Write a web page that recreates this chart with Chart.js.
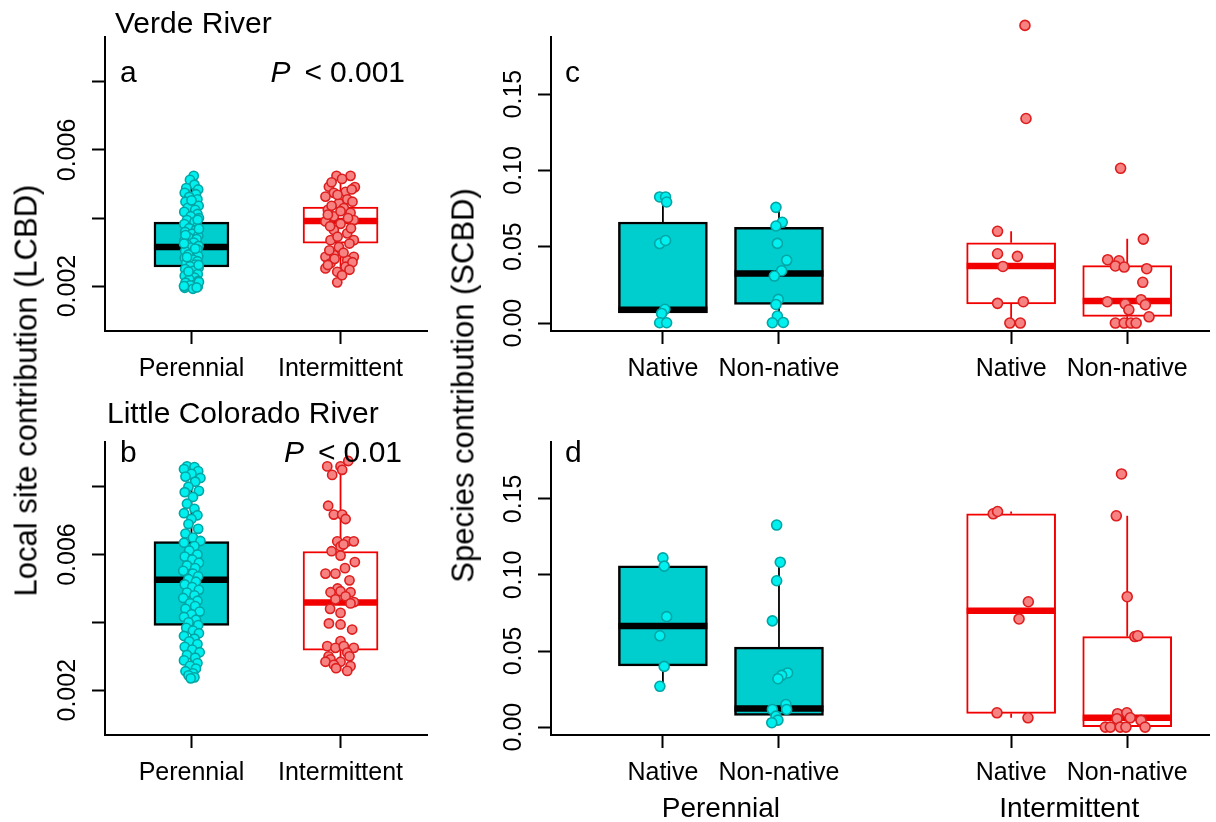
<!DOCTYPE html>
<html>
<head>
<meta charset="utf-8">
<script src="https://cdn.jsdelivr.net/npm/chart.js@4"></script>
<style>
  html, body { margin: 0; padding: 0; background: #fff; }
  body { width: 1216px; height: 822px; position: relative; overflow: hidden;
         font-family: "Liberation Sans", Arial, sans-serif; }
  canvas { position: absolute; }
  .ytitle { position: absolute; width: 520px; height: 31px; line-height: 31px; font-size: 31px;
            text-align: center; white-space: nowrap; color: #000; transform: rotate(-90deg); }
</style>
</head>
<body>
<canvas id="panelA" width="440" height="400" style="left:0;top:0"></canvas>
<canvas id="panelB" width="440" height="422" style="left:0;top:400px"></canvas>
<canvas id="panelC" width="776" height="400" style="left:440px;top:0"></canvas>
<canvas id="panelD" width="776" height="422" style="left:440px;top:400px"></canvas>
<div class="ytitle" style="left:-234px;top:374.5px">Local site contribution (LCBD)</div>
<div class="ytitle" style="left:203px;top:369.5px">Species contribution (SCBD)</div>
<script>
// ---- categories and axis ticks ----
const flowRegimes = ['Perennial', 'Intermittent'];
const regimePositions = [1, 2];
const originLabels = ['Native', 'Non-native', 'Native', 'Non-native'];
const originPositions = [1, 2, 4, 5];
const originRegime = [0, 0, 1, 1];

const lcbdTicks = [0.002, 0.004, 0.006, 0.008];
const lcbdTickLabels = ['0.002', '', '0.006', ''];
const scbdTicks = [0, 0.05, 0.10, 0.15];
const scbdTickLabels = ['0.00', '0.05', '0.10', '0.15'];

// ---- box summaries: [lower whisker, Q1, median, Q3, upper whisker] ----
const verdeSiteBoxes = [
  [0.00192, 0.00256, 0.00315, 0.00388, 0.00524],
  [0.00211, 0.00326, 0.00391, 0.00432, 0.00524]
];
const lcrSiteBoxes = [
  [0.00235, 0.00391, 0.00526, 0.00638, 0.00859],
  [0.00256, 0.00318, 0.00459, 0.00609, 0.00870]
];
const verdeSpeciesBoxes = [
  [0.0002, 0.0066, 0.0088, 0.0662, 0.0826],
  [0.0002, 0.0122, 0.0325, 0.0627, 0.0758],
  [0.0000, 0.0125, 0.0374, 0.0526, 0.0601],
  [0.0000, 0.0044, 0.0144, 0.0376, 0.0553]
];
const lcrSpeciesBoxes = [
  [0.0268, 0.0402, 0.0665, 0.1060, 0.1112],
  [0.0029, 0.0077, 0.0122, 0.0526, 0.1084],
  [0.0061, 0.0090, 0.0765, 0.1402, 0.1417],
  [0.0000, 0.0000, 0.0061, 0.0595, 0.1389]
];

// ---- observations: [value, horizontal jitter] ----
const verdePerennialSites = [
  [0.00524, 0.015], [0.00512, -0.010], [0.00498, 0.020], [0.00488, -0.035], [0.00484, 0.045], [0.00474, -0.045],
  [0.00470, 0.030], [0.00462, -0.015], [0.00455, 0.040], [0.00448, -0.040], [0.00441, 0.010], [0.00436, 0.048],
  [0.00430, -0.025], [0.00424, 0.025], [0.00418, -0.048], [0.00412, 0.040], [0.00405, -0.005], [0.00400, 0.050],
  [0.00394, -0.030], [0.00388, 0.020], [0.00382, -0.048], [0.00376, 0.040], [0.00370, -0.015], [0.00365, 0.030],
  [0.00359, -0.042], [0.00354, 0.005], [0.00348, 0.045], [0.00343, -0.020], [0.00338, 0.035], [0.00333, -0.048],
  [0.00328, 0.015], [0.00322, -0.030], [0.00318, 0.048], [0.00313, -0.005], [0.00308, 0.040], [0.00303, -0.042],
  [0.00298, 0.020], [0.00293, -0.020], [0.00288, 0.045], [0.00283, -0.045], [0.00278, 0.010], [0.00273, 0.040],
  [0.00268, -0.035], [0.00263, 0.025], [0.00258, -0.010], [0.00254, 0.048], [0.00250, -0.042], [0.00245, 0.015],
  [0.00240, -0.025], [0.00235, 0.042], [0.00230, -0.045], [0.00225, 0.020], [0.00220, -0.015], [0.00215, 0.045],
  [0.00210, -0.040], [0.00206, 0.030], [0.00202, -0.010], [0.00198, 0.042], [0.00195, -0.045], [0.00192, 0.010],
  [0.00452, 0.000], [0.00395, 0.042], [0.00350, -0.040], [0.00310, 0.025], [0.00285, -0.030], [0.00262, 0.048],
  [0.00243, -0.020], [0.00212, 0.050], [0.00200, -0.050], [0.00196, 0.035], [0.00325, -0.050], [0.00368, 0.050]
];
const verdeIntermittentSites = [
  [0.00524, -0.027], [0.00524, 0.067], [0.00492, -0.078], [0.00491, 0.096], [0.00474, -0.045], [0.00477, 0.034],
  [0.00463, -0.101], [0.00455, 0.045], [0.00443, -0.011], [0.00424, -0.085], [0.00429, 0.022], [0.00415, 0.067],
  [0.00405, -0.045], [0.00394, 0.089], [0.00390, -0.101], [0.00383, 0.000], [0.00365, -0.045], [0.00355, 0.045],
  [0.00335, -0.067], [0.00335, 0.089], [0.00315, -0.011], [0.00291, -0.045], [0.00286, -0.101], [0.00286, 0.089],
  [0.00276, 0.045], [0.00267, -0.067], [0.00257, 0.034], [0.00252, -0.101], [0.00242, -0.022], [0.00211, -0.022],
  [0.00515, 0.010], [0.00505, -0.060], [0.00484, 0.075], [0.00468, -0.020], [0.00448, 0.080], [0.00436, -0.060],
  [0.00420, 0.000], [0.00410, -0.085], [0.00400, 0.050], [0.00376, -0.070], [0.00370, 0.070], [0.00345, -0.020],
  [0.00325, 0.060], [0.00305, -0.075], [0.00298, 0.020], [0.00280, -0.040], [0.00270, 0.080], [0.00262, -0.085],
  [0.00248, 0.060], [0.00232, 0.010]
];
const lcrPerennialSites = [
  [0.00860, -0.030], [0.00858, 0.020], [0.00852, -0.050], [0.00846, 0.045], [0.00838, 0.000], [0.00830, -0.040],
  [0.00826, 0.060], [0.00815, 0.025], [0.00800, -0.020], [0.00788, 0.050], [0.00784, -0.045], [0.00770, 0.010],
  [0.00750, -0.030], [0.00735, 0.020], [0.00722, -0.050], [0.00716, 0.040], [0.00705, 0.000], [0.00690, -0.020],
  [0.00676, 0.045], [0.00662, -0.040], [0.00650, 0.010], [0.00640, 0.060], [0.00635, -0.050], [0.00625, 0.020],
  [0.00612, -0.015], [0.00600, 0.040], [0.00594, -0.045], [0.00585, 0.005], [0.00576, 0.050], [0.00568, -0.030],
  [0.00560, 0.025], [0.00552, -0.055], [0.00544, 0.010], [0.00536, 0.045], [0.00528, -0.020], [0.00520, 0.030],
  [0.00512, -0.045], [0.00504, 0.005], [0.00496, 0.050], [0.00488, -0.030], [0.00480, 0.020], [0.00472, -0.055],
  [0.00464, 0.040], [0.00456, -0.010], [0.00448, 0.025], [0.00440, -0.040], [0.00432, 0.055], [0.00424, 0.000],
  [0.00416, -0.050], [0.00408, 0.030], [0.00400, -0.020], [0.00392, 0.045], [0.00384, -0.035], [0.00376, 0.010],
  [0.00368, 0.050], [0.00360, -0.050], [0.00352, 0.020], [0.00344, -0.015], [0.00336, 0.040], [0.00328, -0.045],
  [0.00320, 0.005], [0.00312, 0.055], [0.00304, -0.030], [0.00296, 0.025], [0.00288, -0.050], [0.00280, 0.040],
  [0.00272, -0.010], [0.00264, 0.030], [0.00256, -0.040], [0.00250, 0.010], [0.00244, -0.020], [0.00238, 0.020],
  [0.00235, -0.005]
];
const lcrIntermittentSites = [
  [0.00860, -0.089], [0.00860, 0.000], [0.00876, 0.052], [0.00835, -0.056], [0.00850, 0.011], [0.00744, -0.083],
  [0.00718, -0.045], [0.00718, 0.011], [0.00705, 0.034], [0.00639, -0.022], [0.00639, 0.045], [0.00639, 0.089],
  [0.00624, 0.000], [0.00630, 0.020], [0.00610, -0.060], [0.00597, 0.000], [0.00578, 0.096], [0.00560, 0.030],
  [0.00544, -0.101], [0.00544, -0.034], [0.00524, 0.060], [0.00500, -0.020], [0.00489, -0.067], [0.00492, 0.000],
  [0.00489, 0.067], [0.00477, 0.034], [0.00468, -0.034], [0.00460, 0.090], [0.00456, 0.067], [0.00440, -0.070],
  [0.00428, 0.000], [0.00397, -0.078], [0.00394, 0.000], [0.00379, 0.078], [0.00345, 0.000], [0.00330, -0.089],
  [0.00325, -0.034], [0.00330, 0.022], [0.00325, 0.089], [0.00311, 0.045], [0.00300, 0.060], [0.00300, -0.080],
  [0.00291, -0.067], [0.00284, 0.000], [0.00284, -0.101], [0.00275, -0.045], [0.00271, 0.067], [0.00265, -0.030],
  [0.00257, 0.045]
];

const verdeNativePerennial = [
  [0.0826, -0.028], [0.0826, 0.023], [0.0793, 0.032], [0.0521, -0.028], [0.0541, 0.023],
  [0.0090, 0.017], [0.0063, -0.011], [0.0002, -0.028], [0.0002, 0.032]
];
const verdeNonnativePerennial = [
  [0.0758, -0.026], [0.0660, 0.028], [0.0636, -0.026], [0.0522, -0.014], [0.0411, 0.066], [0.0343, 0.023],
  [0.0308, -0.040], [0.0155, -0.006], [0.0122, -0.026], [0.0046, -0.014], [0.0002, -0.057], [0.0004, 0.037]
];
const verdeNativeIntermittent = [
  [0.1950, 0.119], [0.1340, 0.128], [0.0601, -0.117], [0.0454, -0.117], [0.0437, 0.054],
  [0.0371, -0.071], [0.0129, -0.117], [0.0140, 0.105], [0.0000, -0.011], [0.0000, 0.079]
];
const verdeNonnativeIntermittent = [
  [0.1014, -0.057], [0.0550, 0.139], [0.0415, -0.168], [0.0408, -0.071], [0.0374, -0.102], [0.0367, -0.026],
  [0.0356, 0.168], [0.0267, 0.134], [0.0140, -0.171], [0.0153, 0.119], [0.0125, -0.017], [0.0120, 0.156],
  [0.0087, 0.014], [0.0041, 0.188], [0.0000, -0.102], [0.0000, -0.026], [0.0000, 0.032], [0.0000, 0.077]
];
const lcrNativePerennial = [
  [0.1112, 0.000], [0.1058, 0.011], [0.0726, 0.032], [0.0600, -0.026], [0.0399, 0.011], [0.0268, -0.026]
];
const lcrNonnativePerennial = [
  [0.1328, -0.020], [0.1084, 0.011], [0.0962, -0.020], [0.0698, -0.057], [0.0356, 0.074], [0.0340, 0.023],
  [0.0318, -0.009], [0.0148, 0.060], [0.0116, 0.066], [0.0116, -0.057], [0.0072, -0.026], [0.0046, -0.009],
  [0.0029, -0.062]
];
const lcrNativeIntermittent = [
  [0.1402, -0.154], [0.1417, -0.117], [0.0824, 0.148], [0.0711, 0.068], [0.0094, -0.122], [0.0061, 0.145]
];
const lcrNonnativeIntermittent = [
  [0.1664, -0.049], [0.1389, -0.094], [0.0857, 0.000], [0.0595, 0.066], [0.0600, 0.091], [0.0088, -0.083],
  [0.0094, -0.003], [0.0055, -0.088], [0.0061, 0.026], [0.0044, 0.119], [0.0000, -0.188], [0.0000, -0.145],
  [0.0000, -0.060], [0.0000, -0.011], [0.0000, 0.154]
];

// ---- drawing styles per flow regime ----
const FONT = '"Liberation Sans", Arial, sans-serif';
const regimeStyle = [
  { boxFill: '#00CDCD', line: '#000000', boxWidth: 2.5, ptFill: 'rgb(0,240,240)', ptLine: 'rgb(0,165,165)' },
  { boxFill: '#FFFFFF', line: '#F20000', boxWidth: 2, ptFill: 'rgb(246,130,130)', ptLine: 'rgb(222,30,30)' }
];

// whiskers and median bars drawn on top of the box elements
function boxDetailPlugin(boxes, styles) {
  return {
    id: 'boxDetail',
    afterDatasetDraw(chart, args) {
      if (args.meta.type !== 'bar') return;
      const ctx = chart.ctx, y = chart.scales.y;
      args.meta.data.forEach((bar, i) => {
        const [lo, q1, med, q3, hi] = boxes[i];
        const st = styles[i];
        ctx.save();
        ctx.strokeStyle = st.line;
        ctx.lineWidth = 1.8;
        ctx.beginPath();
        ctx.moveTo(bar.x, y.getPixelForValue(q3));
        ctx.lineTo(bar.x, y.getPixelForValue(hi));
        ctx.moveTo(bar.x, y.getPixelForValue(q1));
        ctx.lineTo(bar.x, y.getPixelForValue(lo));
        ctx.stroke();
        const ym = y.getPixelForValue(med);
        ctx.lineWidth = 6.5;
        ctx.beginPath();
        ctx.moveTo(bar.x - bar.width / 2, ym);
        ctx.lineTo(bar.x + bar.width / 2, ym);
        ctx.stroke();
        ctx.restore();
      });
    },
    // observations lying beyond the plotting region are still shown
    afterDatasetsDraw(chart) {
      const area = chart.chartArea;
      chart.getSortedVisibleDatasetMetas().forEach(meta => {
        if (meta.type !== 'scatter') return;
        meta.data.forEach(el => {
          if (el.y < area.top || el.y > area.bottom) el.draw(chart.ctx);
        });
      });
    }
  };
}

// tick labels, panel letters, titles and P values
function panelTextPlugin(cfg) {
  return {
    id: 'panelText',
    afterDraw(chart) {
      const { ctx, chartArea, scales: { x, y } } = chart;
      ctx.save();
      ctx.fillStyle = '#000';
      ctx.font = '25px ' + FONT;
      ctx.textBaseline = 'alphabetic';
      y.ticks.forEach((t, i) => {
        const label = cfg.yLabels[i];
        if (!label) return;
        ctx.save();
        ctx.translate(chartArea.left - 30.5, y.getPixelForValue(t.value));
        ctx.rotate(-Math.PI / 2);
        ctx.textAlign = 'center';
        ctx.fillText(label, 0, 0);
        ctx.restore();
      });
      ctx.textAlign = 'center';
      x.ticks.forEach((t, i) => {
        ctx.fillText(cfg.xLabels[i], x.getPixelForValue(t.value), chartArea.bottom + 45);
      });
      (cfg.groups || []).forEach(g => {
        ctx.font = '28px ' + FONT;
        ctx.textAlign = 'center';
        ctx.fillText(g.text, x.getPixelForValue(g.at), chartArea.bottom + 82);
      });
      ctx.textAlign = 'left';
      (cfg.texts || []).forEach(t => {
        ctx.font = '30px ' + FONT;
        ctx.fillText(t.text, t.x, t.y);
      });
      if (cfg.pValue) {
        const p = cfg.pValue;
        ctx.font = '30px ' + FONT;
        const wVal = ctx.measureText(p.value).width;
        const wLt = ctx.measureText('<').width;
        ctx.font = 'italic 30px ' + FONT;
        const wP = ctx.measureText('P').width;
        const xVal = p.right - wVal;
        const xLt = xVal - 8 - wLt;
        const xP = xLt - 14 - wP;
        ctx.fillText('P', xP, p.y);
        ctx.font = '30px ' + FONT;
        ctx.fillText('<', xLt, p.y);
        ctx.fillText(p.value, xVal, p.y);
      }
      ctx.restore();
    }
  };
}

function makePanel(id, cfg) {
  const styles = cfg.regimeOf.map(r => regimeStyle[r]);
  const datasets = [{
    type: 'bar',
    order: 2,
    data: cfg.positions.map((p, i) => ({ x: p, y: [cfg.boxes[i][1], cfg.boxes[i][3]] })),
    backgroundColor: styles.map(s => s.boxFill),
    borderColor: styles.map(s => s.line),
    borderWidth: styles.map(s => s.boxWidth),
    borderSkipped: false,
    barThickness: cfg.boxPx,
    grouped: false
  }];
  cfg.points.forEach((obs, i) => {
    datasets.push({
      type: 'scatter',
      order: 1,
      clip: false,
      data: obs.map(([v, dx]) => ({ x: cfg.positions[i] + dx, y: v })),
      pointRadius: cfg.pointR,
      pointBorderWidth: 1.6,
      backgroundColor: styles[i].ptFill,
      borderColor: styles[i].ptLine
    });
  });
  const axisGrid = { display: true, offset: false, drawOnChartArea: false, drawTicks: true,
                     tickLength: 13, tickWidth: 2, tickColor: '#000' };
  const axisBorder = { display: true, color: '#000', width: 2 };
  return new Chart(document.getElementById(id), {
    type: 'scatter',
    data: { datasets },
    options: {
      responsive: false,
      animation: false,
      devicePixelRatio: 1,
      events: [],
      layout: { padding: { left: 0, top: cfg.padTop, right: cfg.padRight, bottom: 0 } },
      plugins: { legend: { display: false }, tooltip: { enabled: false }, title: { display: false } },
      scales: {
        x: {
          type: 'linear', position: 'bottom', min: cfg.xMin, max: cfg.xMax, offset: false,
          grid: axisGrid, border: axisBorder,
          ticks: { display: false },
          afterBuildTicks: s => { s.ticks = cfg.positions.map(v => ({ value: v })); },
          afterFit: s => { s.height = cfg.xAxisHeight; }
        },
        y: {
          type: 'linear', position: 'left', min: cfg.yMin, max: cfg.yMax, offset: false,
          grid: axisGrid, border: axisBorder,
          ticks: { display: false },
          afterBuildTicks: s => { s.ticks = cfg.yTicks.map(v => ({ value: v })); },
          afterFit: s => { s.width = cfg.yAxisWidth; }
        }
      }
    },
    plugins: [boxDetailPlugin(cfg.boxes, styles), panelTextPlugin(cfg)]
  });
}

makePanel('panelA', {
  positions: regimePositions, regimeOf: [0, 1], xLabels: flowRegimes,
  boxes: verdeSiteBoxes, points: [verdePerennialSites, verdeIntermittentSites],
  yTicks: lcbdTicks, yLabels: lcbdTickLabels,
  xMin: 0.42, xMax: 2.58, yMin: 0.00068, yMax: 0.00932,
  boxPx: 75, pointR: 4.6, padTop: 37, padRight: 13, yAxisWidth: 105, xAxisHeight: 69,
  texts: [{ text: 'Verde River', x: 115, y: 33 }, { text: 'a', x: 120, y: 81.7 }],
  pValue: { value: '0.001', right: 405, y: 81.7 }
});

makePanel('panelB', {
  positions: regimePositions, regimeOf: [0, 1], xLabels: flowRegimes,
  boxes: lcrSiteBoxes, points: [lcrPerennialSites, lcrIntermittentSites],
  yTicks: lcbdTicks, yLabels: lcbdTickLabels,
  xMin: 0.42, xMax: 2.58, yMin: 0.00068, yMax: 0.00932,
  boxPx: 75, pointR: 4.6, padTop: 42, padRight: 13, yAxisWidth: 105, xAxisHeight: 87,
  texts: [{ text: 'Little Colorado River', x: 107, y: 23.3 }, { text: 'b', x: 120, y: 61.7 }],
  pValue: { value: '0.01', right: 402, y: 61.7 }
});

makePanel('panelC', {
  positions: originPositions, regimeOf: originRegime, xLabels: originLabels,
  boxes: verdeSpeciesBoxes,
  points: [verdeNativePerennial, verdeNonnativePerennial, verdeNativeIntermittent, verdeNonnativeIntermittent],
  yTicks: scbdTicks, yLabels: scbdTickLabels,
  xMin: 0.036, xMax: 5.708, yMin: -0.0052, yMax: 0.1874,
  boxPx: 89, pointR: 5.0, padTop: 37, padRight: 0, yAxisWidth: 111, xAxisHeight: 69,
  texts: [{ text: 'c', x: 125, y: 81.7 }]
});

makePanel('panelD', {
  positions: originPositions, regimeOf: originRegime, xLabels: originLabels,
  boxes: lcrSpeciesBoxes,
  points: [lcrNativePerennial, lcrNonnativePerennial, lcrNativeIntermittent, lcrNonnativeIntermittent],
  yTicks: scbdTicks, yLabels: scbdTickLabels,
  xMin: 0.036, xMax: 5.708, yMin: -0.0052, yMax: 0.1874,
  boxPx: 89, pointR: 5.0, padTop: 42, padRight: 0, yAxisWidth: 111, xAxisHeight: 87,
  texts: [{ text: 'd', x: 125, y: 61.7 }],
  groups: [
    { text: flowRegimes[0], at: (originPositions[0] + originPositions[1]) / 2 },
    { text: flowRegimes[1], at: (originPositions[2] + originPositions[3]) / 2 }
  ]
});
</script>
</body>
</html>
